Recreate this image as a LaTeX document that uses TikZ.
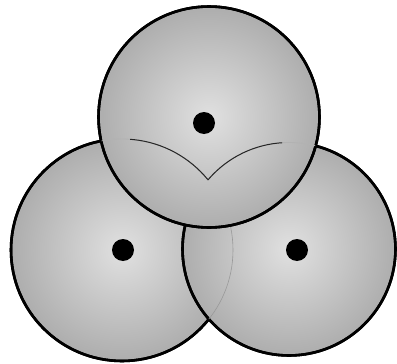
\documentclass[tikz,border=0pt]{standalone}
\begin{document}
\begin{tikzpicture}[x=1pt,y=-1pt,
  disc/.style={inner color=black!12,outer color=black!32,draw=black,line width=2.6pt},
  hole/.style={fill=black},
  ghost/.style={draw=black!85,line width=1pt},
  faintghost/.style={draw=black!30,line width=0.8pt}]
\useasboundingbox (0,0) rectangle (397,364);
\coordinate (cl) at (122,250);
\coordinate (cr) at (289,249);
\coordinate (ct) at (209,117);
\path[disc] (cl) circle (111);
\draw[draw=black,line width=2.6pt] (cl) circle (111);
\path[disc] (cr) circle (106.5);
\draw[draw=black,line width=2.6pt] (cr) circle (106.5);
\begin{scope}
  \clip (cr) circle (106.5);
  \draw[draw=black!40,line width=0.6pt] (cl) circle (111);
\end{scope}
\path[disc] (ct) circle (110.5);
\draw[draw=black,line width=2.6pt] (ct) circle (110.5);
\begin{scope}
  \clip (ct) circle (110);
  \begin{scope}[even odd rule]
    \clip (cr) circle (106.5) (-500,-500) rectangle (900,900);
    \draw[faintghost] (cl) circle (111);
    \clip (130,0) rectangle (285,364);
    \draw[ghost] (cl) circle (111);
  \end{scope}
  \begin{scope}[even odd rule]
    \clip (cl) circle (111) (-500,-500) rectangle (900,900);
    \draw[faintghost] (cr) circle (106.5);
    \clip (130,0) rectangle (282,364);
    \draw[ghost] (cr) circle (106.5);
  \end{scope}
\end{scope}
\node[hole,circle,inner sep=0pt,minimum size=22pt] (dt) at (204,123) {};
\node[hole,circle,inner sep=0pt,minimum size=22pt] (dl) at (123,250) {};
\node[hole,circle,inner sep=0pt,minimum size=22pt] (dr) at (297,250) {};
\end{tikzpicture}
\end{document}
